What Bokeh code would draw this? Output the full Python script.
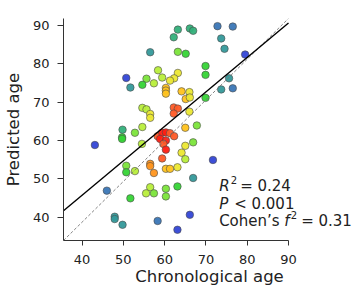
from bokeh.plotting import figure
from bokeh.models import ColumnDataSource, Label, FixedTicker, Range1d
from bokeh.transform import linear_cmap
from bokeh.embed import file_html
from bokeh.resources import INLINE

# ---- data ----
chron_age = [63.2, 66.1, 66.9, 72.8, 76.5, 62.2, 73.7, 74.5, 56.5, 63.2,
             65.1, 79.5, 69.9, 69.9, 58.4, 59.4, 63.2, 62.3, 61.3, 50.7,
             55.6, 54.6, 57.4, 51.7, 60.3, 60.3, 60.3, 64.1, 66.0, 65.1,
             66.1, 75.6, 73.7, 76.5, 69.9, 54.6, 55.6, 56.5, 62.2, 63.2,
             62.2, 66.0, 56.5, 49.8, 49.7, 49.7, 54.6, 52.8, 65.0, 67.8,
             54.5, 43.1, 58.3, 59.4, 60.3, 61.3, 62.3, 58.9, 60.3, 59.7,
             60.3, 65.0, 64.1, 66.9, 65.0, 59.4, 71.7, 56.5, 56.5, 57.4,
             50.7, 50.7, 52.8, 60.3, 61.3, 63.1, 66.9, 46.0, 56.5, 55.5,
             57.4, 60.3, 60.3, 63.1, 51.7, 47.9, 47.9, 49.8, 58.3, 66.1,
             63.1]
pred_age = [88.9, 89.2, 88.6, 89.8, 89.7, 86.9, 86.6, 83.9, 83.0, 83.1,
            82.6, 82.4, 79.4, 77.1, 78.3, 76.4, 77.6, 76.2, 75.6, 76.3,
            76.1, 74.5, 74.9, 73.8, 73.7, 73.0, 72.2, 72.8, 72.6, 70.8,
            71.2, 76.2, 73.3, 73.6, 71.1, 68.5, 68.1, 66.9, 68.6, 68.3,
            67.0, 67.5, 65.9, 62.8, 60.8, 60.4, 63.5, 62.0, 63.3, 63.9,
            59.1, 58.8, 61.1, 62.0, 62.1, 61.9, 61.1, 60.4, 60.0, 59.1,
            57.6, 58.6, 56.8, 59.5, 55.1, 55.3, 54.9, 53.9, 53.3, 51.5,
            53.4, 51.7, 52.0, 52.6, 52.6, 53.0, 50.2, 46.9, 47.8, 46.2,
            46.2, 47.4, 45.4, 48.0, 44.9, 40.1, 39.5, 38.0, 39.0, 40.6,
            36.7]
# point density level (0 = sparse / blue ... 11 = dense / red)
density = [3, 3, 3, 1, 1, 3, 2, 2, 2, 5,
           4, 0, 4, 4, 6, 6, 7, 7, 7, 0,
           5, 4, 6, 2, 8, 8, 8, 8, 7, 8,
           7, 2, 2, 1, 4, 6, 6, 7, 10, 10,
           10, 7, 7, 3, 4, 4, 6, 5, 8, 5,
           6, 0, 10, 11, 11, 10, 10, 11, 11, 10,
           11, 7, 7, 5, 6, 10, 0, 9, 9, 9,
           5, 4, 6, 8, 8, 7, 2, 1, 6, 6,
           5, 5, 5, 4, 4, 2, 2, 2, 1, 0,
           0]

fit_intercept = 9.8
fit_slope = 0.898
r_squared = "0.24"
p_value = "< 0.001"
cohens_f2 = "0.31"

x_ticks = [40, 50, 60, 70, 80, 90]
y_ticks = [40, 50, 60, 70, 80, 90]
x_lim = (35.5, 90.0)
y_lim = (33.9, 91.8)

# ---- style / layout ----
palette = ["#3346d6", "#3a76b6", "#34999a", "#33b07a", "#35d435", "#7be43a",
           "#b8ee3a", "#ece832", "#ffc21c", "#ff951e", "#ff5a26", "#ff1e12"]
FONT = "DejaVu Sans"
TXT = "#222222"
W, H = 355, 288
LEFT, TOP, BOTTOM = 63, 18, 48
frame_px = 225.0  # width of the axis span x_lim in pixels
x_view_end = x_lim[0] + (x_lim[1] - x_lim[0]) * (W - LEFT) / frame_px

src = ColumnDataSource(dict(x=chron_age, y=pred_age, d=density))

p = figure(width=W, height=H, x_range=Range1d(x_lim[0], x_view_end),
           y_range=Range1d(*y_lim),
           output_backend="svg", toolbar_location=None,
           min_border_left=LEFT, min_border_right=0, min_border_top=TOP,
           min_border_bottom=BOTTOM)
p.outline_line_color = None
p.grid.visible = False
p.background_fill_color = "white"
p.border_fill_color = "white"

p.scatter("x", "y", source=src, size=7.5,
          fill_color=linear_cmap("d", palette, low=-0.5, high=11.5),
          line_color="#4a4a4a", line_width=0.6, fill_alpha=0.95)

# corner-to-corner diagonal and regression fit
p.line([x_lim[0], x_lim[1]], [y_lim[0], y_lim[1]], line_color="#777777",
       line_width=0.9, line_dash="3 2")
fx = [x_lim[0], x_lim[1]]
fy = [fit_intercept + fit_slope * v for v in fx]
p.line(fx, fy, line_color="black", line_width=1.4)

for ax, ticks in ((p.xaxis, x_ticks), (p.yaxis, y_ticks)):
    ax.ticker = FixedTicker(ticks=ticks)
    ax.minor_tick_line_color = None
    ax.major_tick_in = 0
    ax.axis_line_color = "#333333"
    ax.major_tick_line_color = "#333333"
    ax.major_label_text_font = FONT
    ax.major_label_text_font_size = "13px"
    ax.major_label_text_color = TXT
    ax.axis_label_text_font = FONT
    ax.axis_label_text_font_size = "16.5px"
    ax.axis_label_text_font_style = "normal"
    ax.axis_label_text_color = TXT

p.xaxis.bounds = x_lim
p.xaxis.major_tick_out = 5
p.xaxis.major_label_standoff = 9
p.xaxis.axis_label_standoff = 0
p.xaxis.axis_label = "Chronological age"
p.yaxis.major_tick_out = 6
p.yaxis.major_label_standoff = 8
p.yaxis.axis_label_standoff = 7
p.yaxis.axis_label = "Predicted age"

# ---- statistics annotation ----
tx = 73.2
rows = [48.07, 43.48, 38.86]
def lab(text, y, xo=0, yo=0, size="15px", style="normal"):
    p.add_layout(Label(x=tx, y=y, x_offset=xo, y_offset=yo, text=text,
                       text_font=FONT, text_font_size=size, text_font_style=style,
                       text_color=TXT, text_baseline="alphabetic", text_align="left"))

lab("R", rows[0], style="italic")
lab("2", rows[0], xo=11.5, yo=6.5, size="10px")
lab("= " + r_squared, rows[0], xo=21)
lab("P", rows[1], style="italic")
lab(p_value, rows[1], xo=15)
lab("Cohen\u2019s", rows[2])
lab("f", rows[2], xo=65, style="italic")
lab("2", rows[2], xo=71.5, yo=6.5, size="10px")
lab("= " + cohens_f2, rows[2], xo=82)

open("out.html", "w").write(file_html(p, INLINE))
